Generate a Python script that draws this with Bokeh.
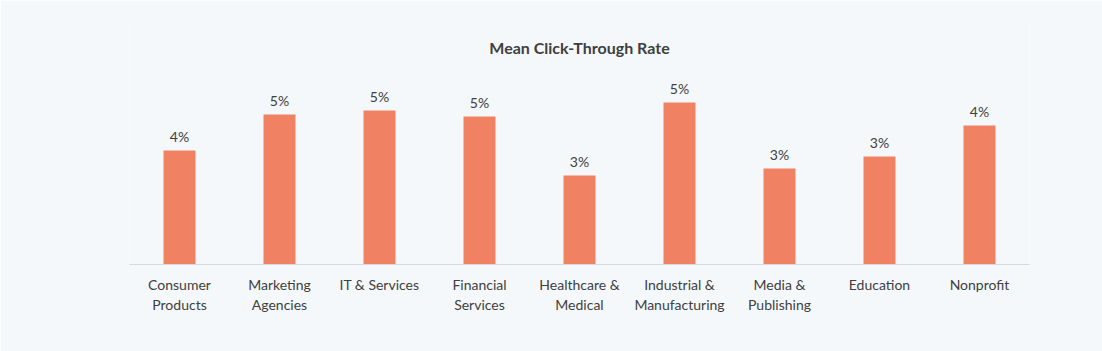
from bokeh.plotting import figure
from bokeh.models import FactorRange, ColumnDataSource
from bokeh.core.properties import value
from bokeh.embed import file_html
from bokeh.resources import INLINE

categories = ["Consumer\nProducts", "Marketing\nAgencies", "IT & Services", "Financial\nServices",
              "Healthcare &\nMedical", "Industrial &\nManufacturing", "Media &\nPublishing",
              "Education", "Nonprofit"]
ctr = [3.52, 4.63, 4.75, 4.57, 2.75, 5.00, 2.96, 3.33, 4.29]
labels = [f"{round(v)}%" for v in ctr]
title_text = "Mean Click-Through Rate"

BG = "#f5f8fb"
BAR = "#f08163"
TXT = "#404040"
FONT = "Lato"

px_per_unit = 32.4
frame_h = 244
p = figure(width=1102, height=351, x_range=FactorRange(factors=categories, range_padding=0),
           y_range=(0, frame_h / px_per_unit), output_backend="svg", toolbar_location=None,
           min_border_left=129, min_border_right=73, min_border_top=20, min_border_bottom=87)
p.background_fill_color = BG
p.border_fill_color = BG
p.outline_line_color = None
p.grid.visible = False
p.yaxis.visible = False

src = ColumnDataSource(dict(x=categories, y=ctr, lab=labels))
p.vbar(x="x", top="y", width=0.32, source=src, fill_color=BAR, line_color=None)
p.text(x="x", y="y", text="lab", source=src, text_align="center", text_baseline="alphabetic",
       y_offset=-14, text_font=value(FONT), text_font_size="14px", text_color=TXT)

tsrc = ColumnDataSource(dict(x=[4.5], y=[(264 - 47) / px_per_unit], t=[title_text]))
p.text(x="x", y="y", text="t", source=tsrc, text_align="center", text_baseline="middle",
       text_font=value(FONT), text_font_size="16px", text_font_style="bold", text_color=TXT)

ax = p.xaxis[0]
ax.axis_line_color = "#d9d9d9"
ax.axis_line_width = 1
ax.major_tick_line_color = None
ax.minor_tick_line_color = None
ax.major_label_text_font = FONT
ax.major_label_text_font_size = "14px"
ax.major_label_text_color = TXT
ax.major_label_standoff = 5

open("out.html", "w").write(file_html(p, INLINE))
